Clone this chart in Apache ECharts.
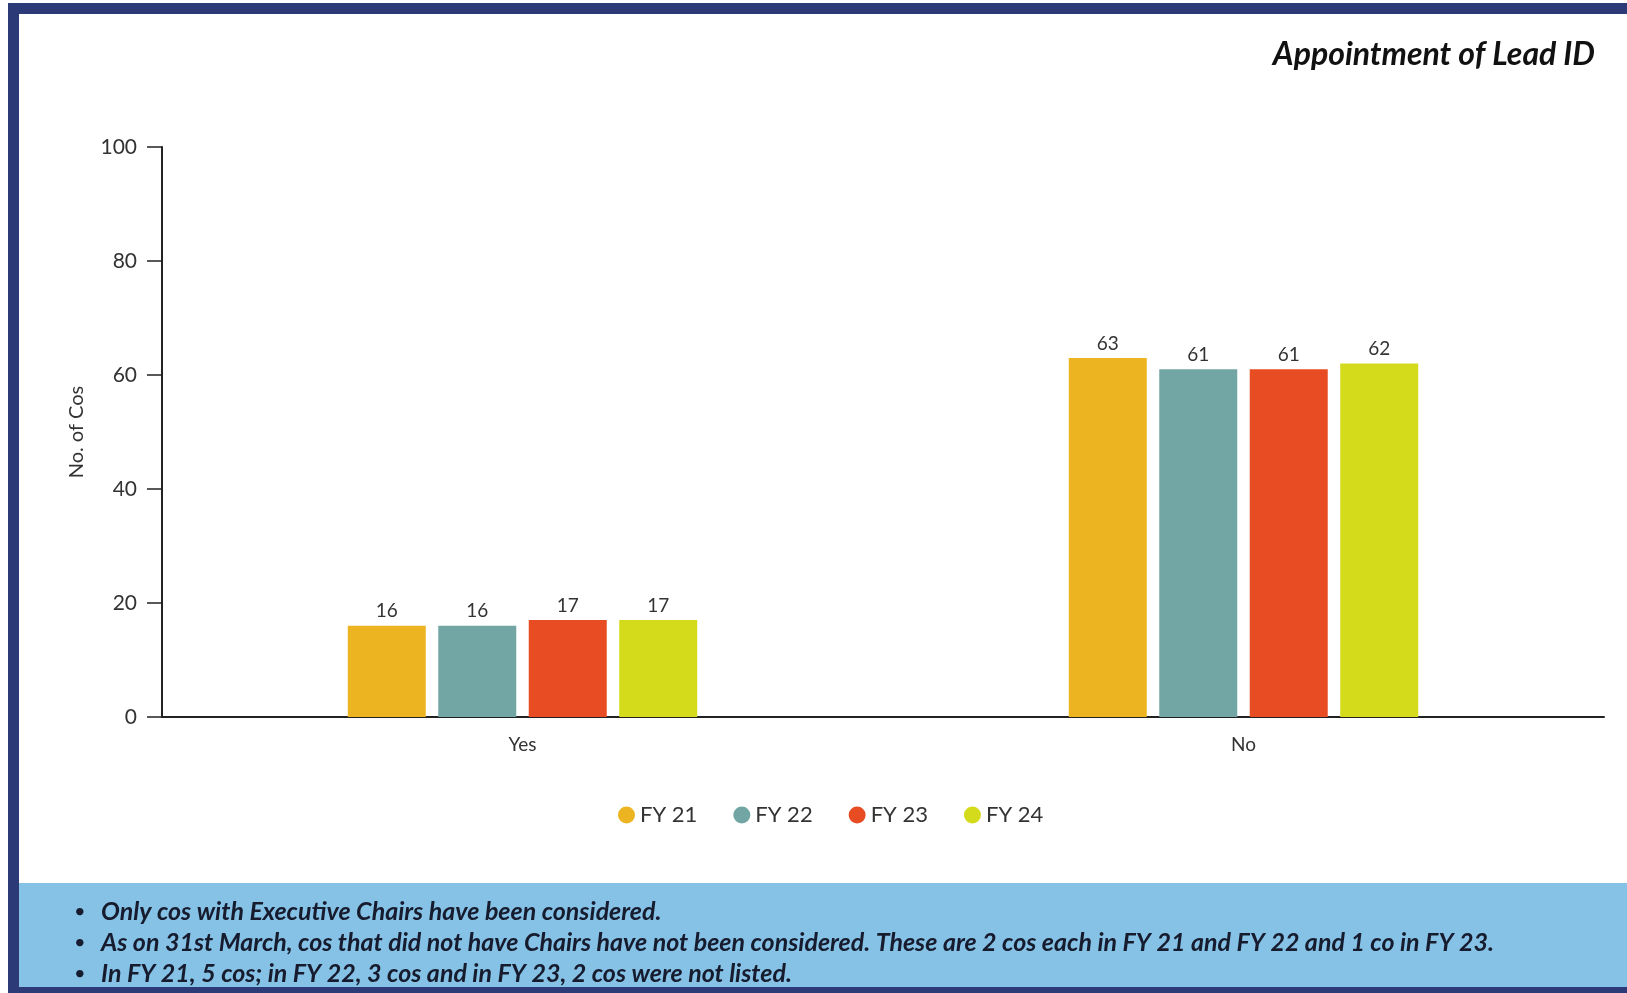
<!DOCTYPE html>
<html>
<head>
<meta charset="utf-8">
<title>Appointment of Lead ID</title>
<script src="https://cdn.jsdelivr.net/npm/echarts@6/dist/echarts.min.js"></script>
<style>
  html, body { margin: 0; padding: 0; background: #ffffff; }
  #chart { width: 1627px; height: 993px; }
</style>
</head>
<body>
<div id="chart"></div>
<script>
// Chart data
const categories = ['Yes', 'No'];
const seriesNames = ['FY 21', 'FY 22', 'FY 23', 'FY 24'];
const fy21 = [16, 63];
const fy22 = [16, 61];
const fy23 = [17, 61];
const fy24 = [17, 62];
const yTicks = [0, 20, 40, 60, 80, 100];
const notes = [
  'Only cos with Executive Chairs have been considered.',
  'As on 31st March, cos that did not have Chairs have not been considered. These are 2 cos each in FY 21 and FY 22 and 1 co in FY 23.',
  'In FY 21, 5 cos; in FY 22, 3 cos and in FY 23, 2 cos were not listed.'
];

const palette = ['#EDB422', '#72A6A5', '#E84C22', '#D4DB1A'];
const navy = '#2C3B78';
const textDark = '#333333';
const baseFont = 'Lato, "Open Sans", sans-serif';

const values = [fy21, fy22, fy23, fy24];

const chart = echarts.init(document.getElementById('chart'), null, { renderer: 'canvas' });

const series = seriesNames.map((name, i) => ({
  name: name,
  type: 'bar',
  data: values[i],
  barWidth: 78,
  barGap: '16%',
  itemStyle: { color: palette[i] },
  label: {
    show: true,
    position: 'top',
    distance: 5,
    color: textDark,
    fontSize: 19,
    fontFamily: baseFont
  }
}));

// Frame, footer band and footnotes
const graphics = [
  { type: 'rect', shape: { x: 8, y: 3, width: 1619, height: 11 }, style: { fill: navy }, z: 10 },
  { type: 'rect', shape: { x: 8, y: 3, width: 11, height: 990 }, style: { fill: navy }, z: 10 },
  { type: 'rect', shape: { x: 19, y: 883, width: 1608, height: 104 }, style: { fill: '#86C2E6' }, z: 5 },
  { type: 'rect', shape: { x: 8, y: 987, width: 1619, height: 6 }, style: { fill: navy }, z: 10 }
];
notes.forEach((t, i) => {
  const y = 912 + i * 31;
  graphics.push({
    type: 'text', x: 74, y: y, z: 11,
    style: { text: '•', fill: '#161b2e', font: '20px ' + baseFont, verticalAlign: 'middle' }
  });
  graphics.push({
    type: 'text', x: 101, y: y, z: 11,
    style: {
      text: t, fill: '#161b2e',
      font: 'italic bold 25px ' + baseFont,
      verticalAlign: 'middle'
    }
  });
});

chart.setOption({
  animation: false,
  backgroundColor: '#ffffff',
  color: palette,
  textStyle: { fontFamily: baseFont },
  title: {
    text: 'Appointment of Lead ID',
    right: 32,
    top: 39,
    padding: 0,
    textStyle: {
      fontFamily: baseFont,
      fontStyle: 'italic',
      fontWeight: 'bold',
      fontSize: 32,
      color: '#111111'
    }
  },
  legend: {
    data: seriesNames,
    left: 613,
    top: 799,
    icon: 'circle',
    itemWidth: 17,
    itemHeight: 17,
    itemGap: 36,
    textStyle: { color: textDark, fontSize: 22, fontFamily: baseFont }
  },
  grid: { left: 162, top: 147, right: 23, bottom: 276, containLabel: false },
  xAxis: {
    type: 'category',
    data: categories,
    axisLine: { lineStyle: { color: '#222222', width: 2 } },
    axisTick: { alignWithLabel: true, length: 12, lineStyle: { color: '#222222', width: 1.5 } },
    axisLabel: { color: textDark, fontSize: 19, margin: 18, fontFamily: baseFont },
    splitLine: { show: false }
  },
  yAxis: {
    type: 'value',
    min: yTicks[0],
    max: yTicks[yTicks.length - 1],
    interval: yTicks[1] - yTicks[0],
    name: 'No. of Cos',
    nameLocation: 'middle',
    nameGap: 75,
    nameTextStyle: { color: textDark, fontSize: 20, fontFamily: baseFont },
    axisLine: { show: true, lineStyle: { color: '#222222', width: 2 } },
    axisTick: { show: true, length: 15, lineStyle: { color: '#222222', width: 1.5 } },
    axisLabel: { color: textDark, fontSize: 21, margin: 25, fontFamily: baseFont },
    splitLine: { show: false }
  },
  series: series,
  graphic: graphics
});
</script>
</body>
</html>
